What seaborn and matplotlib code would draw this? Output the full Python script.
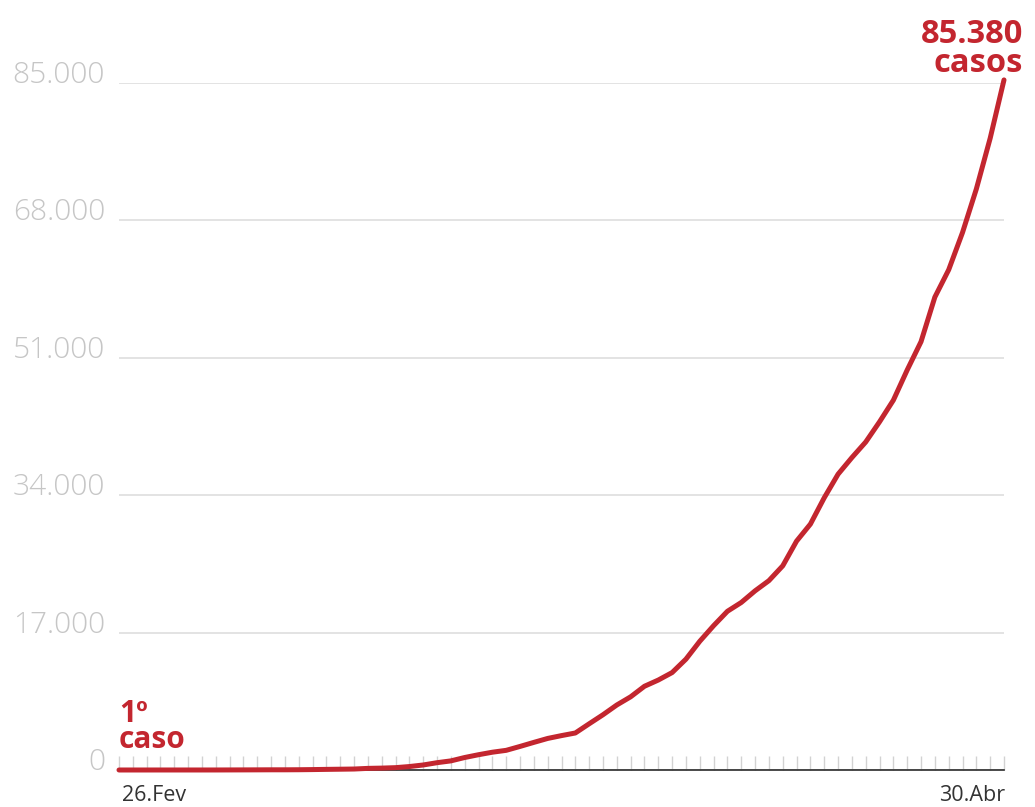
import matplotlib
matplotlib.use("Agg")
import matplotlib.pyplot as plt
import seaborn as sns
import pandas as pd

# Cumulative confirmed cases, one value per day from 26 Feb to 30 Apr
dates = pd.date_range("2020-02-26", "2020-04-30", freq="D")
cases = [
    1, 1, 1, 2,                                                  # Feb 26-29
    2, 2, 2, 3, 8, 13, 19, 25, 25, 34, 52, 77, 98, 121, 200,     # Mar 1-15
    234, 291, 428, 621, 904, 1128, 1546, 1891, 2201, 2433,       # Mar 16-25
    2915, 3417, 3904, 4256, 4579, 5717,                          # Mar 26-31
    6836, 8044, 9056, 10360, 11130, 12056, 13717, 15927, 17857,  # Apr 1-9
    19638, 20727, 22169, 23430, 25262, 28320, 30425, 33682,      # Apr 10-17
    36599, 38654, 40581, 43079, 45757, 49492, 52995, 58509,      # Apr 18-25
    61888, 66501, 71886, 78162, 85380,                           # Apr 26-30
]
y_ticks = [0, 17000, 34000, 51000, 68000, 85000]
y_tick_labels = ["0", "17.000", "34.000", "51.000", "68.000", "85.000"]
x_end_labels = ["26.Fev", "30.Abr"]
first_label = "1º\ncaso"
last_label = "85.380\ncasos"

RED = "#c3262f"

sns.set_style("white")
plt.rcParams["font.family"] = ["Open Sans", "DejaVu Sans"]

df = pd.DataFrame({"date": dates, "cases": cases})
df["day"] = (df["date"] - df["date"].iloc[0]).dt.days
n_days = int(df["day"].iloc[-1])

fig = plt.figure(figsize=(10.35, 8.07), dpi=100)
ax = fig.add_axes([119 / 1035, 37 / 807, 885 / 1035, 687 / 807])

sns.lineplot(data=df, x="day", y="cases", ax=ax, color=RED, linewidth=3.6,
             clip_on=False, zorder=5)

ax.set_xlim(0, n_days)
ax.set_ylim(0, 85000)
ax.set_xlabel("")
ax.set_ylabel("")

# Horizontal guide lines
ax.set_yticks(y_ticks, y_tick_labels)
ax.grid(axis="y", color="#dedede", linewidth=1.2)
ax.grid(axis="x", visible=False)
ax.tick_params(axis="y", length=0, pad=10, labelsize=21.5, labelcolor="#c6c6c6")
for lbl in ax.get_yticklabels():
    lbl.set_verticalalignment("baseline")
    lbl.set_fontweight("light")

# One small tick per day, pointing up from the baseline
ax.set_xticks(df["day"].tolist())
ax.tick_params(axis="x", which="major", bottom=True, direction="in",
               length=10, width=1.0, color="#d2d2d2", labelbottom=False)

for side in ["left", "right", "top"]:
    ax.spines[side].set_visible(False)
ax.spines["bottom"].set_color("#2b2b2b")
ax.spines["bottom"].set_linewidth(1.2)
ax.spines["bottom"].set_zorder(4)

# Date labels at both ends of the axis
ax.annotate(x_end_labels[0], xy=(0, 0), xycoords=("data", "axes fraction"),
            xytext=(2, -22.5), textcoords="offset points",
            ha="left", va="baseline", fontsize=15.5, color="#333333",
            annotation_clip=False)
ax.annotate(x_end_labels[1], xy=(n_days, 0), xycoords=("data", "axes fraction"),
            xytext=(0.7, -22.5), textcoords="offset points",
            ha="right", va="baseline", fontsize=15.5, color="#333333",
            annotation_clip=False)

# Callouts for the first and the latest values
ax.annotate(first_label, xy=(0, cases[0]), xytext=(0, 15.5),
            textcoords="offset points", ha="left", va="baseline",
            fontsize=21.5, fontweight="bold", color=RED, linespacing=0.85)
ax.annotate(last_label, xy=(n_days, cases[-1]), xytext=(13.5, 5.8),
            textcoords="offset points", ha="right", va="baseline",
            fontsize=23.5, fontweight="bold", color=RED, linespacing=0.85,
            annotation_clip=False)

fig.savefig("out.png", dpi=100)
